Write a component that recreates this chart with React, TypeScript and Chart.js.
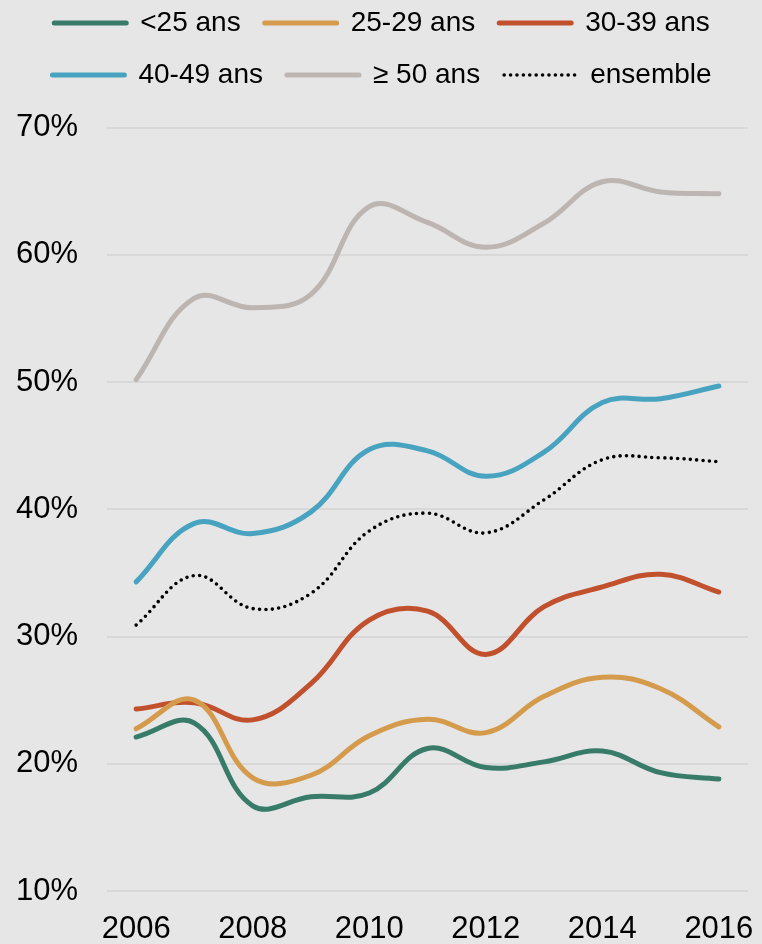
import React, { useEffect, useRef } from "react";
import { Chart, registerables } from "chart.js";

Chart.register(...registerables);

const BG = "#e6e6e6";

const years = ["2006", "2007", "2008", "2009", "2010", "2011", "2012", "2013", "2014", "2015", "2016"];

const seriesNames = ["<25 ans", "25-29 ans", "30-39 ans", "40-49 ans", "≥ 50 ans", "ensemble"];

const under25 = [22.1, 23.2, 16.7, 17.4, 17.7, 21.2, 19.7, 20.15, 21.0, 19.3, 18.8];
const age25to29 = [22.75, 25.0, 18.9, 19.1, 22.2, 23.5, 22.45, 25.3, 26.8, 25.9, 22.9];
const age30to39 = [24.3, 24.8, 23.45, 26.3, 31.3, 32.0, 28.6, 32.35, 33.9, 34.9, 33.5];
const age40to49 = [34.3, 38.9, 38.1, 39.8, 44.7, 44.6, 42.6, 44.5, 48.4, 48.7, 49.7];
const age50plus = [50.2, 56.6, 55.85, 56.9, 63.8, 62.55, 60.6, 62.5, 65.75, 64.95, 64.8];
const overall = [30.9, 34.8, 32.2, 33.4, 38.3, 39.7, 38.15, 40.75, 43.9, 44.05, 43.75];

const colors = ["#387b69", "#d59b4c", "#c1502d", "#47a3c0", "#bcb5b1", "#000000"];

const yMin = 10;
const yMax = 70;
const yStep = 10;

const FONT = "'Liberation Sans', Arial, Helvetica, sans-serif";
const SOLID_W = 5;
const DOT_W = 3.6;
const DOT_DASH = [0, 6.4];

export default function App() {
  const ref = useRef<HTMLCanvasElement>(null);

  useEffect(() => {
    document.body.style.margin = "0";
    document.body.style.background = BG;
    const values = [under25, age25to29, age30to39, age40to49, age50plus, overall];
    const datasets = values.map((data, i) => {
      const dotted = i === 5;
      return {
        label: seriesNames[i],
        data,
        borderColor: colors[i],
        backgroundColor: colors[i],
        borderWidth: dotted ? DOT_W : SOLID_W,
        borderDash: dotted ? DOT_DASH : [],
        borderCapStyle: "round" as const,
        borderJoinStyle: "round" as const,
        pointRadius: 0,
        pointStyle: "line" as const,
        tension: 0.4,
        fill: false,
      };
    });

    const bgPlugin = {
      id: "bg",
      beforeDraw(chart: any) {
        const { ctx, width, height } = chart;
        ctx.save();
        ctx.fillStyle = BG;
        ctx.fillRect(0, 0, width, height);
        ctx.restore();
      },
    };

    const chart = new Chart(ref.current!, {
      type: "line",
      data: { labels: years, datasets },
      plugins: [bgPlugin],
      options: {
        responsive: false,
        animation: false,
        layout: { padding: { top: -15, left: 16, right: 14, bottom: 0 } },
        plugins: {
          tooltip: { enabled: false },
          title: {
            display: true,
            text: " ",
            weight: 500,
            padding: { top: 27.5, bottom: 0 },
            font: { size: 1 },
          },
          legend: {
            position: "top",
            labels: {
              usePointStyle: true,
              pointStyleWidth: 72,
              boxHeight: 10,
              padding: 24,
              color: "#000",
              font: { family: FONT, size: 28 },
              generateLabels: (c: any) => {
                const items = (Chart as any).defaults.plugins.legend.labels.generateLabels(c);
                return items.map((it: any, i: number) => ({
                  ...it,
                  pointStyle: "line",
                  strokeStyle: colors[i],
                  fillStyle: colors[i],
                  lineCap: "round",
                  lineDash: i === 5 ? DOT_DASH : [],
                  lineWidth: i === 5 ? DOT_W : SOLID_W,
                }));
              },
            },
          },
        },
        scales: {
          x: {
            type: "category",
            offset: true,
            grid: { display: false, drawTicks: false },
            border: { display: false },
            afterFit: (s: any) => {
              s.height = 53;
              s.paddingLeft = 0;
              s.paddingRight = 0;
            },
            ticks: {
              autoSkip: false,
              maxRotation: 0,
              padding: 20,
              color: "#000",
              font: { family: FONT, size: 31 },
              callback: (_v: any, idx: number) => (idx % 2 === 0 ? years[idx] : ""),
            },
          },
          y: {
            min: yMin,
            max: yMax,
            grid: { color: "#d8d8d8", lineWidth: 2, drawTicks: false },
            border: { display: false },
            afterFit: (s: any) => {
              s.width = 91;
            },
            ticks: {
              stepSize: yStep,
              padding: 29,
              color: "#000",
              font: { family: FONT, size: 31 },
              callback: (v: any) => `${v}%`,
            },
          },
        },
      },
    });
    return () => chart.destroy();
  }, []);

  return (
    <canvas
      ref={ref}
      width={762}
      height={944}
      style={{ display: "block", width: 762, height: 944 }}
    />
  );
}
